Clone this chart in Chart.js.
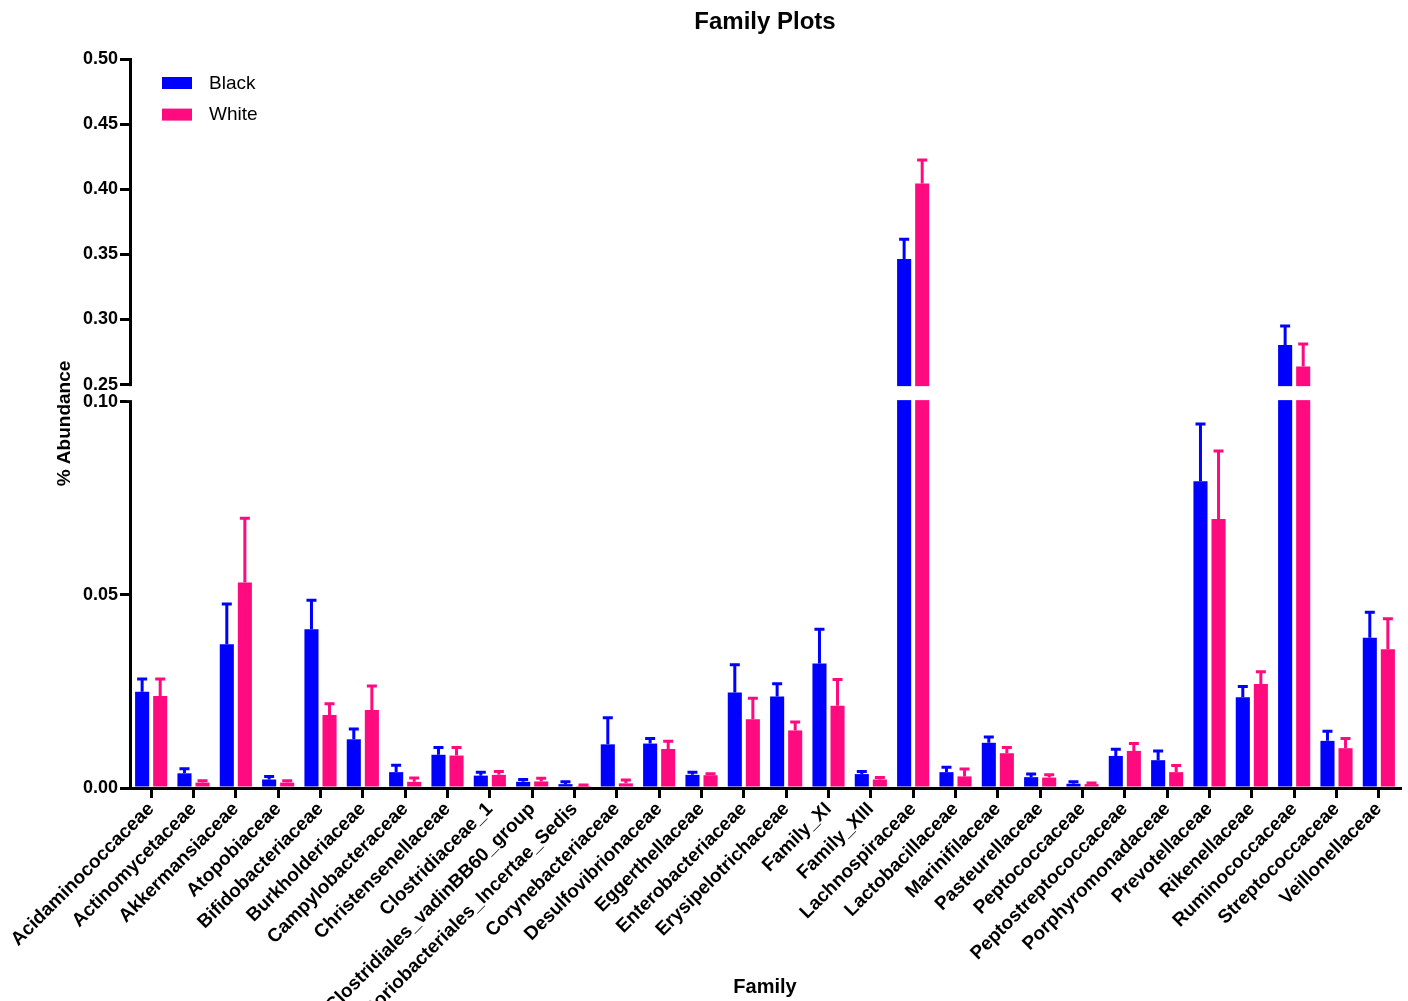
<!DOCTYPE html>
<html>
<head>
<meta charset="utf-8">
<title>Family Plots</title>
<script src="https://cdn.jsdelivr.net/npm/chart.js@4.4.1/dist/chart.umd.min.js"></script>
<style>
  html, body { margin: 0; padding: 0; background: #ffffff; }
  #wrap { width: 1408px; height: 1001px; position: relative; }
</style>
</head>
<body>
<div id="wrap"><canvas id="chart" width="1408" height="1001"></canvas></div>
<script>
// ---- data -------------------------------------------------------------
const families = [
  'Acidaminococcaceae', 'Actinomycetaceae', 'Akkermansiaceae', 'Atopobiaceae',
  'Bifidobacteriaceae', 'Burkholderiaceae', 'Campylobacteraceae', 'Christensenellaceae',
  'Clostridiaceae_1', 'Clostridiales_vadinBB60_group', 'Coriobacteriales_Incertae_Sedis',
  'Corynebacteriaceae', 'Desulfovibrionaceae', 'Eggerthellaceae', 'Enterobacteriaceae',
  'Erysipelotrichaceae', 'Family_XI', 'Family_XIII', 'Lachnospiraceae', 'Lactobacillaceae',
  'Marinifilaceae', 'Pasteurellaceae', 'Peptococcaceae', 'Peptostreptococcaceae',
  'Porphyromonadaceae', 'Prevotellaceae', 'Rikenellaceae', 'Ruminococcaceae',
  'Streptococcaceae', 'Veillonellaceae'
];

const blackMean = [
  0.0249, 0.0038, 0.0372, 0.0022, 0.0411, 0.0126, 0.0041, 0.0086, 0.0032, 0.0016,
  0.0010, 0.0113, 0.0115, 0.0034, 0.0247, 0.0237, 0.0322, 0.0036, 0.3464, 0.0041,
  0.0117, 0.0028, 0.0011, 0.0083, 0.0072, 0.0794, 0.0235, 0.2804, 0.0122, 0.0389
];
const blackSem = [
  0.0033, 0.0012, 0.0104, 0.0008, 0.0075, 0.0027, 0.0018, 0.0019, 0.0009, 0.0006,
  0.0006, 0.0069, 0.0013, 0.0007, 0.0072, 0.0033, 0.0089, 0.0007, 0.0153, 0.0013,
  0.0015, 0.0008, 0.0005, 0.0017, 0.0024, 0.0148, 0.0028, 0.0146, 0.0025, 0.0066
];
const whiteMean = [
  0.0238, 0.0014, 0.0532, 0.0014, 0.0189, 0.0202, 0.0016, 0.0084, 0.0034, 0.0017,
  0.0005, 0.0012, 0.0101, 0.0033, 0.0178, 0.0149, 0.0213, 0.0022, 0.4044, 0.0030,
  0.0090, 0.0027, 0.0010, 0.0096, 0.0041, 0.0696, 0.0269, 0.2640, 0.0103, 0.0359
];
const whiteSem = [
  0.0044, 0.0005, 0.0166, 0.0005, 0.0029, 0.0062, 0.0010, 0.0021, 0.0009, 0.0008,
  0.0003, 0.0009, 0.0020, 0.0004, 0.0054, 0.0022, 0.0068, 0.0005, 0.0181, 0.0019,
  0.0015, 0.0007, 0.0003, 0.0019, 0.0017, 0.0176, 0.0032, 0.0172, 0.0025, 0.0079
];

const yTicks = [0, 0.05, 0.10, 0.25, 0.30, 0.35, 0.40, 0.45, 0.50];
const lowerSegment = [0, 0.10];
const upperSegment = [0.25, 0.50];

// ---- styling ----------------------------------------------------------
const BLUE = '#0000ff';
const PINK = '#ff0a7f';
const FONT = "'Liberation Sans', Arial, Helvetica, sans-serif";
const LOWER_SHARE = 0.530;   // share of axis height for the lower segment
const GAP_SHARE = 0.0233;    // share of axis height used by the break

Chart.defaults.font.family = FONT;
Chart.defaults.color = '#000000';

// ---- broken (two-segment) linear axis ----------------------------------
function valueToDecimal(v) {
  const [l0, l1] = lowerSegment;
  const [u0, u1] = upperSegment;
  if (v <= l1) return (v - l0) / (l1 - l0) * LOWER_SHARE;
  if (v < u0) return LOWER_SHARE + (v - l1) / (u0 - l1) * GAP_SHARE;
  return LOWER_SHARE + GAP_SHARE + (v - u0) / (u1 - u0) * (1 - LOWER_SHARE - GAP_SHARE);
}
function decimalToValue(d) {
  const [l0, l1] = lowerSegment;
  const [u0, u1] = upperSegment;
  if (d <= LOWER_SHARE) return l0 + d / LOWER_SHARE * (l1 - l0);
  if (d < LOWER_SHARE + GAP_SHARE) return l1 + (d - LOWER_SHARE) / GAP_SHARE * (u0 - l1);
  return u0 + (d - LOWER_SHARE - GAP_SHARE) / (1 - LOWER_SHARE - GAP_SHARE) * (u1 - u0);
}

class BrokenLinearScale extends Chart.LinearScale {
  buildTicks() {
    return yTicks.map(v => ({ value: v }));
  }
  getPixelForValue(value) {
    return this.getPixelForDecimal(valueToDecimal(value));
  }
  getValueForPixel(pixel) {
    return decimalToValue(this.getDecimalForPixel(pixel));
  }
}
BrokenLinearScale.id = 'brokenLinear';
BrokenLinearScale.defaults = Chart.LinearScale.defaults;
Chart.register(BrokenLinearScale);

// ---- plugins ----------------------------------------------------------
const semBySeries = [blackSem, whiteSem];

const errorBarPlugin = {
  id: 'errorBars',
  afterDatasetsDraw(chart) {
    const { ctx } = chart;
    const yScale = chart.scales.y;
    chart.data.datasets.forEach((ds, i) => {
      const meta = chart.getDatasetMeta(i);
      const sem = semBySeries[i];
      ctx.save();
      ctx.strokeStyle = ds.backgroundColor;
      ctx.lineWidth = 3;
      ctx.lineCap = 'butt';
      meta.data.forEach((bar, j) => {
        const top = yScale.getPixelForValue(ds.data[j] + sem[j]);
        ctx.beginPath();
        ctx.moveTo(bar.x, bar.y);
        ctx.lineTo(bar.x, top);
        ctx.moveTo(bar.x - 5, top);
        ctx.lineTo(bar.x + 5, top);
        ctx.stroke();
      });
      ctx.restore();
    });
  }
};

const axisBreakPlugin = {
  id: 'axisBreak',
  afterDatasetsDraw(chart) {
    const { ctx, chartArea } = chart;
    const yScale = chart.scales.y;
    const yLow = yScale.getPixelForValue(lowerSegment[1]);
    const yHigh = yScale.getPixelForValue(upperSegment[0]);
    ctx.save();
    ctx.fillStyle = '#ffffff';
    ctx.fillRect(chartArea.left - 3, yHigh + 1.5, chartArea.right - chartArea.left + 3, (yLow - yHigh) - 3);
    ctx.restore();
  }
};

const titleAndLegendPlugin = {
  id: 'titleAndLegend',
  afterDraw(chart) {
    const { ctx, chartArea } = chart;
    ctx.save();
    // title
    ctx.fillStyle = '#000000';
    ctx.font = `bold 24px ${FONT}`;
    ctx.textAlign = 'center';
    ctx.textBaseline = 'alphabetic';
    ctx.fillText('Family Plots', (chartArea.left + chartArea.right) / 2, 29);
    // legend
    ctx.font = `19px ${FONT}`;
    ctx.textAlign = 'left';
    ctx.textBaseline = 'middle';
    chart.data.datasets.forEach((ds, i) => {
      const y = chartArea.top + 18 + i * 31.6;
      ctx.fillStyle = ds.backgroundColor;
      ctx.fillRect(chartArea.left + 32, y, 30, 12);
      ctx.fillStyle = '#000000';
      ctx.fillText(ds.label, chartArea.left + 79, y + 6.5);
    });
    ctx.restore();
  }
};

// ---- chart ------------------------------------------------------------
new Chart(document.getElementById('chart'), {
  type: 'bar',
  data: {
    labels: families,
    datasets: [
      { label: 'Black', data: blackMean, backgroundColor: BLUE, borderWidth: 0 },
      { label: 'White', data: whiteMean, backgroundColor: PINK, borderWidth: 0 }
    ]
  },
  options: {
    responsive: false,
    animation: false,
    devicePixelRatio: 1,
    categoryPercentage: 0.853,
    barPercentage: 0.78,
    layout: { padding: { top: 59, right: 8, bottom: 0, left: 0 } },
    plugins: {
      legend: { display: false },
      title: { display: false },
      tooltip: { enabled: false }
    },
    scales: {
      x: {
        type: 'category',
        offset: true,
        z: 1,
        border: { display: true, color: '#000000', width: 3 },
        grid: {
          display: true, drawOnChartArea: false, drawTicks: true,
          tickLength: 10, lineWidth: 3, color: '#000000', offset: false
        },
        ticks: {
          autoSkip: false, minRotation: 45, maxRotation: 45, padding: 0,
          color: '#000000', font: { size: 19, weight: 'bold' }
        },
        title: {
          display: true, text: 'Family', color: '#000000',
          font: { size: 20, weight: 'bold' }, padding: { top: 0, bottom: 2 }
        },
        afterFit(scale) {
          scale.height = 213;
          scale.paddingLeft = 0;
          scale.paddingRight = 0;
        }
      },
      y: {
        type: 'brokenLinear',
        min: 0,
        max: 0.5,
        border: { display: true, color: '#000000', width: 3 },
        grid: {
          display: true, drawOnChartArea: false, drawTicks: true,
          tickLength: 10, lineWidth: 3, color: '#000000'
        },
        ticks: {
          autoSkip: false, padding: 2, color: '#000000',
          font: { size: 18, weight: 'bold' },
          callback: v => Number(v).toFixed(2)
        },
        title: {
          display: true, text: '% Abundance', color: '#000000',
          font: { size: 19, weight: 'bold' }, padding: { top: 53, bottom: 0 }
        },
        afterFit(scale) {
          scale.width = 130;
          scale.paddingTop = 0;
          scale.paddingBottom = 0;
        }
      }
    }
  },
  plugins: [errorBarPlugin, axisBreakPlugin, titleAndLegendPlugin]
});
</script>
</body>
</html>
